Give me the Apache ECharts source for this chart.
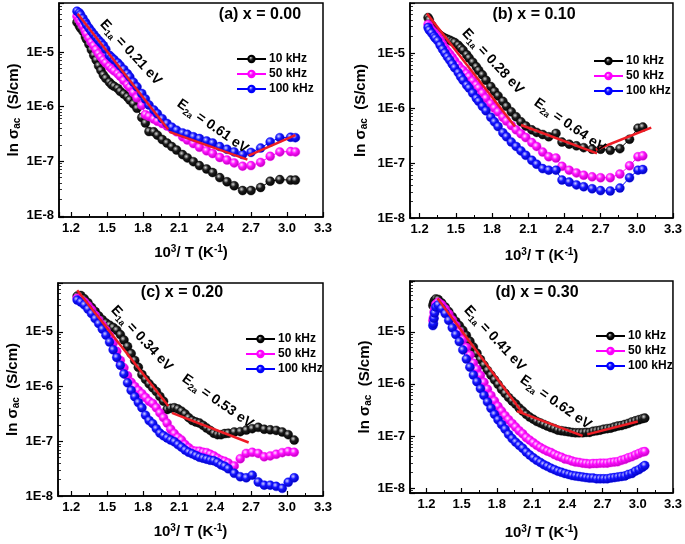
<!DOCTYPE html>
<html><head><meta charset="utf-8">
<script src="https://cdn.jsdelivr.net/npm/echarts@6/dist/echarts.min.js"></script>
<style>html,body{margin:0;padding:0;background:#fff}#c{width:685px;height:544px}</style>
</head><body><div id="c"></div><script>
const FONT = '"Liberation Sans", Arial, Helvetica, sans-serif';
const freqNames = ['10 kHz', '50 kHz', '100 kHz'];
const panelTitles = ['(a) x = 0.00', '(b) x = 0.10', '(c) x = 0.20', '(d) x = 0.30'];
const e1Values = ['0.21', '0.28', '0.34', '0.41'];
const e2Values = ['0.61', '0.64', '0.53', '0.62'];
const xTickStep = 0.3;

// ---- panel (a) x = 0.00
const xA = [1.25,1.27,1.28,1.30,1.32,1.33,1.35,1.37,1.39,1.41,1.43,1.45,1.47,1.49,1.52,1.54,1.56,1.59,1.61,1.64,1.67,1.69,1.72,1.75,1.79,1.82,1.85,1.89,1.92,1.96,2.00,2.04,2.08,2.13,2.17,2.22,2.27,2.33,2.38,2.44,2.50,2.56,2.63,2.70,2.78,2.86,2.94,3.03,3.07];
const a10 = [3.5e-5,3.0e-5,2.75e-5,2.4e-5,1.9e-5,1.7e-5,1.38e-5,1.1e-5,8.7e-6,7.1e-6,5.6e-6,4.6e-6,3.8e-6,3.3e-6,2.8e-6,2.5e-6,2.35e-6,2.15e-6,1.9e-6,1.7e-6,1.5e-6,1.32e-6,1.12e-6,9.3e-7,6.3e-7,5.0e-7,3.5e-7,3.45e-7,3.0e-7,2.5e-7,2.15e-7,1.85e-7,1.6e-7,1.32e-7,1.15e-7,9.8e-8,8.3e-8,7.2e-8,6.2e-8,5.0e-8,4.2e-8,3.55e-8,2.9e-8,2.9e-8,3.3e-8,4.3e-8,4.6e-8,4.5e-8,4.5e-8];
const a50 = [4.5e-5,3.8e-5,3.5e-5,2.95e-5,2.4e-5,2.15e-5,1.8e-5,1.5e-5,1.3e-5,1.1e-5,9.3e-6,8.1e-6,7.1e-6,6.3e-6,5.4e-6,4.9e-6,4.5e-6,4.0e-6,3.6e-6,3.0e-6,2.5e-6,2.25e-6,1.8e-6,1.45e-6,1.05e-6,7.1e-7,6.6e-7,5.9e-7,5.4e-7,4.9e-7,4.4e-7,3.9e-7,3.45e-7,2.8e-7,2.45e-7,2.1e-7,1.8e-7,1.55e-7,1.38e-7,1.17e-7,1.05e-7,9.3e-8,8.1e-8,8.3e-8,9.5e-8,1.23e-7,1.48e-7,1.5e-7,1.48e-7];
const a100 = [5.6e-5,5.2e-5,4.8e-5,4.1e-5,3.5e-5,3.15e-5,2.75e-5,2.4e-5,2.1e-5,1.85e-5,1.65e-5,1.48e-5,1.32e-5,1.12e-5,8.7e-6,7.9e-6,7.2e-6,6.3e-6,5.6e-6,4.8e-6,4.0e-6,3.5e-6,2.8e-6,2.3e-6,1.74e-6,1.38e-6,1.07e-6,8.7e-7,7.4e-7,6.0e-7,4.9e-7,4.2e-7,3.7e-7,3.3e-7,3.1e-7,2.8e-7,2.6e-7,2.35e-7,2.15e-7,1.85e-7,1.65e-7,1.48e-7,1.32e-7,1.45e-7,1.74e-7,2.25e-7,2.7e-7,2.75e-7,2.7e-7];
const aFits = [[[1.255,5.0e-5],[2.01,3.8e-7]], [[2.02,3.45e-7],[2.67,1.07e-7]], [[2.68,1.26e-7],[3.07,3.0e-7]]];

// ---- panel (b) x = 0.10
const xB = [1.27,1.28,1.30,1.32,1.33,1.35,1.37,1.39,1.41,1.43,1.45,1.47,1.49,1.52,1.54,1.56,1.59,1.61,1.64,1.67,1.69,1.72,1.75,1.79,1.82,1.85,1.89,1.92,1.96,2.00,2.04,2.08,2.13,2.17,2.22,2.27,2.33,2.38,2.44,2.50,2.56,2.63,2.70,2.78,2.86,2.94,3.01,3.05];
const b10 = [4.4e-5,4.0e-5,3.2e-5,2.7e-5,2.5e-5,2.3e-5,2.1e-5,1.95e-5,1.85e-5,1.78e-5,1.7e-5,1.62e-5,1.55e-5,1.38e-5,1.23e-5,1.12e-5,9.3e-6,8.1e-6,6.8e-6,5.6e-6,4.8e-6,4.0e-6,3.2e-6,2.45e-6,2.0e-6,1.66e-6,1.32e-6,1.07e-6,8.5e-7,6.9e-7,5.6e-7,4.7e-7,4.0e-7,3.6e-7,3.3e-7,3.0e-7,3.45e-7,2.4e-7,2.2e-7,2.05e-7,1.9e-7,1.78e-7,1.78e-7,1.7e-7,1.82e-7,2.7e-7,4.3e-7,4.5e-7];
const b50 = [3.3e-5,3.0e-5,2.6e-5,2.35e-5,2.2e-5,2.0e-5,1.7e-5,1.45e-5,1.23e-5,1.07e-5,9.5e-6,8.3e-6,7.2e-6,6.0e-6,5.2e-6,4.8e-6,4.2e-6,3.7e-6,3.1e-6,2.6e-6,2.3e-6,1.86e-6,1.5e-6,1.2e-6,1.0e-6,8.5e-7,6.8e-7,5.8e-7,4.8e-7,4.0e-7,3.4e-7,2.9e-7,2.35e-7,2.0e-7,1.58e-7,1.3e-7,1.23e-7,8.7e-8,7.4e-8,6.6e-8,6.0e-8,5.6e-8,5.4e-8,5.4e-8,6.3e-8,8.9e-8,1.3e-7,1.35e-7];
const b100 = [2.9e-5,2.6e-5,2.3e-5,2.0e-5,1.86e-5,1.66e-5,1.38e-5,1.17e-5,1.0e-5,8.5e-6,7.4e-6,6.3e-6,5.4e-6,4.4e-6,3.7e-6,3.2e-6,2.6e-6,2.3e-6,1.86e-6,1.5e-6,1.32e-6,1.07e-6,8.9e-7,6.8e-7,5.6e-7,4.6e-7,3.55e-7,3.0e-7,2.4e-7,2.0e-7,1.66e-7,1.38e-7,1.12e-7,9.5e-8,7.9e-8,7.4e-8,7.4e-8,4.9e-8,4.5e-8,4.0e-8,3.7e-8,3.4e-8,3.15e-8,3.1e-8,3.5e-8,5.4e-8,7.4e-8,7.6e-8];
const bFits = [[[1.26,5.2e-5],[1.99,4.6e-7]], [[2.04,4.9e-7],[2.67,1.5e-7]], [[2.66,1.74e-7],[3.12,4.4e-7]]];

// ---- panel (c) x = 0.20
const xC = [1.25,1.28,1.31,1.34,1.37,1.40,1.43,1.46,1.49,1.52,1.55,1.58,1.61,1.64,1.67,1.70,1.73,1.76,1.79,1.82,1.85,1.88,1.91,1.94,1.97,2.00,2.03,2.06,2.09,2.12,2.15,2.18,2.21,2.24,2.27,2.30,2.33,2.36,2.39,2.42,2.45,2.48,2.51,2.56,2.61,2.66,2.71,2.76,2.81,2.86,2.91,2.96,3.01,3.06];
const c10 = [4.5e-5,4.6e-5,4.0e-5,3.4e-5,2.8e-5,2.35e-5,1.95e-5,1.66e-5,1.45e-5,1.32e-5,1.2e-5,1.07e-5,8.9e-6,7.1e-6,5.4e-6,4.0e-6,3.0e-6,2.25e-6,1.66e-6,1.35e-6,1.12e-6,9.5e-7,8.1e-7,6.6e-7,5.4e-7,3.8e-7,4.0e-7,4.1e-7,3.9e-7,3.55e-7,3.15e-7,2.7e-7,2.4e-7,2.25e-7,2.15e-7,1.95e-7,1.74e-7,1.58e-7,1.4e-7,1.32e-7,1.32e-7,1.38e-7,1.4e-7,1.48e-7,1.5e-7,1.6e-7,1.7e-7,1.8e-7,1.66e-7,1.62e-7,1.58e-7,1.48e-7,1.32e-7,1.05e-7];
const c50 = [4.1e-5,3.8e-5,3.5e-5,3.0e-5,2.5e-5,2.0e-5,1.62e-5,1.32e-5,1.07e-5,8.5e-6,6.2e-6,4.4e-6,3.0e-6,2.2e-6,1.58e-6,1.2e-6,1.0e-6,8.5e-7,7.4e-7,6.3e-7,5.4e-7,4.9e-7,4.1e-7,3.3e-7,2.7e-7,2.15e-7,1.66e-7,1.38e-7,1.17e-7,1.05e-7,8.7e-8,7.6e-8,6.8e-8,6.6e-8,6.6e-8,6.3e-8,6.2e-8,5.8e-8,5.4e-8,4.9e-8,4.5e-8,4.3e-8,4.0e-8,3.55e-8,4.8e-8,6.0e-8,6.3e-8,6.0e-8,5.2e-8,5.4e-8,5.8e-8,6.2e-8,6.5e-8,6.3e-8];
const c100 = [3.8e-5,3.5e-5,3.1e-5,2.6e-5,2.15e-5,1.74e-5,1.41e-5,1.12e-5,8.7e-6,6.5e-6,4.7e-6,3.4e-6,2.45e-6,1.7e-6,1.17e-6,8.5e-7,6.5e-7,5.1e-7,4.1e-7,3.0e-7,2.4e-7,2.1e-7,1.7e-7,1.41e-7,1.26e-7,1.15e-7,1.05e-7,9.8e-8,8.7e-8,7.8e-8,6.9e-8,6.3e-8,5.9e-8,5.5e-8,5.1e-8,4.9e-8,4.7e-8,4.5e-8,4.4e-8,4.1e-8,3.7e-8,3.5e-8,3.15e-8,2.6e-8,2.25e-8,2.15e-8,2.4e-8,1.8e-8,1.58e-8,1.58e-8,1.5e-8,1.38e-8,1.78e-8,2.15e-8];
const cFits = [[[1.25,5.75e-5],[2.01,4.4e-7]], [[2.04,3.3e-7],[2.68,9.5e-8]]];

// ---- panel (d) x = 0.30
const xD = [1.255,1.26,1.265,1.27,1.28,1.30,1.33,1.36,1.39,1.42,1.45,1.48,1.51,1.54,1.57,1.60,1.63,1.66,1.69,1.72,1.75,1.78,1.81,1.84,1.87,1.90,1.93,1.96,1.99,2.02,2.05,2.08,2.11,2.14,2.17,2.20,2.23,2.26,2.29,2.32,2.35,2.38,2.41,2.44,2.47,2.50,2.53,2.56,2.59,2.62,2.65,2.68,2.71,2.74,2.77,2.80,2.83,2.86,2.89,2.92,2.95,2.98,3.01,3.04,3.06];
const d10 = [3.2e-5,3.5e-5,3.8e-5,4.0e-5,4.3e-5,4.2e-5,3.6e-5,3.0e-5,2.45e-5,1.95e-5,1.58e-5,1.32e-5,1.07e-5,8.5e-6,6.6e-6,5.1e-6,3.9e-6,2.95e-6,2.3e-6,1.82e-6,1.48e-6,1.2e-6,9.8e-7,7.9e-7,6.6e-7,5.5e-7,4.7e-7,4.1e-7,3.45e-7,3.0e-7,2.6e-7,2.3e-7,2.1e-7,1.9e-7,1.78e-7,1.66e-7,1.55e-7,1.45e-7,1.38e-7,1.29e-7,1.26e-7,1.23e-7,1.2e-7,1.17e-7,1.15e-7,1.15e-7,1.15e-7,1.17e-7,1.17e-7,1.23e-7,1.26e-7,1.29e-7,1.35e-7,1.38e-7,1.41e-7,1.48e-7,1.55e-7,1.58e-7,1.66e-7,1.74e-7,1.86e-7,1.95e-7,2.05e-7,2.15e-7,2.2e-7];
const d50 = [1.66e-5,1.9e-5,2.4e-5,2.8e-5,3.4e-5,3.7e-5,3.3e-5,2.75e-5,2.2e-5,1.7e-5,1.32e-5,1.0e-5,7.1e-6,5.0e-6,3.55e-6,2.5e-6,1.9e-6,1.45e-6,1.07e-6,7.9e-7,6.0e-7,4.7e-7,3.7e-7,3.0e-7,2.45e-7,2.05e-7,1.74e-7,1.48e-7,1.26e-7,1.1e-7,9.3e-8,8.3e-8,7.4e-8,6.6e-8,6.0e-8,5.5e-8,5.1e-8,4.8e-8,4.4e-8,4.1e-8,3.9e-8,3.6e-8,3.5e-8,3.3e-8,3.15e-8,3.1e-8,3.0e-8,2.95e-8,2.9e-8,2.95e-8,2.95e-8,3.0e-8,3.0e-8,3.0e-8,3.1e-8,3.15e-8,3.2e-8,3.4e-8,3.55e-8,3.8e-8,4.0e-8,4.3e-8,4.6e-8,4.9e-8,5.0e-8];
const d100 = [1.32e-5,1.45e-5,1.82e-5,2.3e-5,3.0e-5,3.3e-5,2.8e-5,2.25e-5,1.66e-5,1.2e-5,8.9e-6,6.5e-6,4.5e-6,3.0e-6,2.1e-6,1.48e-6,1.1e-6,8.1e-7,6.0e-7,4.5e-7,3.4e-7,2.6e-7,2.05e-7,1.66e-7,1.35e-7,1.07e-7,8.9e-8,7.6e-8,6.6e-8,5.8e-8,4.9e-8,4.3e-8,3.8e-8,3.4e-8,3.1e-8,2.8e-8,2.6e-8,2.4e-8,2.25e-8,2.1e-8,2.0e-8,1.9e-8,1.82e-8,1.74e-8,1.7e-8,1.66e-8,1.62e-8,1.58e-8,1.55e-8,1.55e-8,1.5e-8,1.5e-8,1.5e-8,1.5e-8,1.55e-8,1.58e-8,1.62e-8,1.66e-8,1.7e-8,1.82e-8,1.9e-8,2.1e-8,2.25e-8,2.5e-8,2.7e-8];
const dFits = [[[1.295,4.4e-5],[2.02,2.75e-7]], [[1.97,3.0e-7],[2.53,1.0e-7]], [[2.57,1.07e-7],[3.0,1.9e-7]]];

// ---- assembly
const panelX = [xA, xB, xC, xD];
const panelY = [[a10, a50, a100], [b10, b50, b100], [c10, c50, c100], [d10, d50, d100]];
const panelFits = [aFits, bFits, cFits, dFits];

const layouts = [
  {left:59, top:3, width:264, height:214, xMin:1.1, yMin:9.5e-9, yMax:7.9e-5, gapY:37, gapX:27, lg:[231,48], title:[260,15], e1:[130,53], e2:[212,127]},
  {left:410, top:3, width:265, height:215, xMin:1.12, yMin:1e-8, yMax:8.1e-5, gapY:41, gapX:29, lg:[588,50], title:[534,15], e1:[492,62], e2:[569,126]},
  {left:58, top:283, width:265, height:213, xMin:1.09, yMin:1e-8, yMax:7.8e-5, gapY:36, gapX:27, lg:[240,328], title:[182,293], e1:[141,339], e2:[217,402]},
  {left:410, top:281, width:267, height:212, xMin:1.06, yMin:8e-9, yMax:9.5e-5, gapY:33, gapX:31, lg:[590,325], title:[537,293], e1:[494,339], e2:[555,403]}
];

function ball(c0, c1, c2) {
  return {type:'radial', x:0.38, y:0.35, r:0.7, colorStops:[{offset:0,color:c0},{offset:0.4,color:c1},{offset:1,color:c2}]};
}
const lineColors = ['#000000', '#ff00ff', '#0000ff'];
const markerFills = [ball('#d8d8d8','#1c1c1c','#000000'), ball('#ffe0ff','#ff10ff','#b000b0'), ball('#d0d0ff','#1515ff','#0000a8')];
const fitColor = '#ee1c24';

function isTick(v) { const q = v / xTickStep; return Math.abs(q - Math.round(q)) < 1e-6; }
function logLabel(v) { const e = Math.log10(v); const r = Math.round(e); return Math.abs(e - r) < 1e-6 ? '1E' + r : ''; }

const boldTxt = {fontFamily: FONT, fontWeight: 'bold', color: '#000'};
const yNameRich = {
  a: Object.assign({fontSize:15, lineHeight:16, verticalAlign:'top'}, boldTxt),
  s: Object.assign({fontSize:10, lineHeight:12, padding:[9,0,0,0], verticalAlign:'bottom'}, boldTxt)
};
const xNameRich = {
  a: Object.assign({fontSize:15, lineHeight:16, verticalAlign:'bottom'}, boldTxt),
  p: Object.assign({fontSize:10, lineHeight:12, padding:[0,0,8,0], verticalAlign:'top'}, boldTxt)
};
const eRich = {
  a: {fontFamily: FONT, fontWeight:'bold', fontSize:14, lineHeight:16, verticalAlign:'top', fill:'#000'},
  s: {fontFamily: FONT, fontWeight:'bold', fontSize:9, lineHeight:10, padding:[8,0,0,0], verticalAlign:'bottom', fill:'#000'}
};

const grid = [], xAxis = [], yAxis = [], series = [], legend = [], graphic = [];
layouts.forEach((L, i) => {
  grid.push({left:L.left, top:L.top, width:L.width, height:L.height, show:true, borderColor:'#000', borderWidth:1.5, backgroundColor:'transparent'});
  xAxis.push({
    gridIndex:i, type:'value', min:L.xMin, max:3.3, splitNumber:7,
    axisLine:{show:true, onZero:false, lineStyle:{color:'#000', width:1.5}},
    axisTick:{show:true, inside:true, length:5, lineStyle:{color:'#000', width:1.2}},
    minorTick:{show:true, splitNumber:2, length:3, lineStyle:{color:'#000', width:1}},
    splitLine:{show:false}, minorSplitLine:{show:false},
    axisLabel:{margin:5, fontFamily:FONT, fontWeight:'bold', fontSize:13, color:'#000', formatter: v => isTick(v) ? v.toFixed(1) : ''},
    name:'{a|10}{p|3}{a|/ T (K}{p|-1}{a|)}', nameLocation:'middle', nameGap:L.gapX,
    nameTextStyle:{rich:xNameRich}
  });
  yAxis.push({
    gridIndex:i, type:'log', logBase:10, min:L.yMin, max:L.yMax,
    axisLine:{show:true, onZero:false, lineStyle:{color:'#000', width:1.5}},
    axisTick:{show:true, inside:true, length:5, lineStyle:{color:'#000', width:1.2}},
    minorTick:{show:true, splitNumber:9, length:3, lineStyle:{color:'#000', width:0.8}},
    splitLine:{show:false}, minorSplitLine:{show:false},
    axisLabel:{margin:5, fontFamily:FONT, fontWeight:'bold', fontSize:13, color:'#000', formatter: logLabel},
    name:'{a|ln σ}{s|ac}{a|  (S/cm)}', nameLocation:'middle', nameRotate:90, nameGap:L.gapY,
    nameTextStyle:{rich:yNameRich}
  });
  const xs = panelX[i];
  panelY[i].forEach((ys, k) => {
    series.push({
      type:'line', name:freqNames[k], xAxisIndex:i, yAxisIndex:i,
      data: xs.map((x, j) => [x, ys[j]]),
      symbol:'circle', symbolSize:9, showSymbol:true,
      lineStyle:{color:lineColors[k], width:1},
      itemStyle:{color:markerFills[k], borderColor:lineColors[k], borderWidth:0.4},
      emphasis:{disabled:true}, animation:false, z:2
    });
  });
  panelFits[i].forEach(seg => {
    series.push({
      type:'line', xAxisIndex:i, yAxisIndex:i, data:seg, symbol:'none',
      lineStyle:{color:fitColor, width:2.5}, silent:true, animation:false, z:5
    });
  });
  legend.push({
    data:freqNames, orient:'vertical', left:L.lg[0], top:L.lg[1],
    itemWidth:29, itemHeight:8, itemGap:3, selectedMode:false,
    textStyle:{fontFamily:FONT, fontWeight:'bold', fontSize:12, color:'#000', padding:[0,0,0,-2]}
  });
  graphic.push({type:'text', x:L.title[0], y:L.title[1], z:10,
    style:{text:panelTitles[i], font:'bold 16px ' + FONT, fill:'#000', align:'center', verticalAlign:'middle'}});
  graphic.push({type:'text', x:L.e1[0], y:L.e1[1], rotation:-47 * Math.PI / 180, z:10,
    style:{text:'{a|E}{s|1a}{a| = ' + e1Values[i] + ' eV}', rich:eRich, align:'center', verticalAlign:'middle'}});
  graphic.push({type:'text', x:L.e2[0], y:L.e2[1], rotation:-35 * Math.PI / 180, z:10,
    style:{text:'{a|E}{s|2a}{a| = ' + e2Values[i] + ' eV}', rich:eRich, align:'center', verticalAlign:'middle'}});
});

const chart = echarts.init(document.getElementById('c'), null, {renderer:'canvas'});
chart.setOption({animation:false, backgroundColor:'#fff', grid, xAxis, yAxis, series, legend, graphic});
</script></body></html>
